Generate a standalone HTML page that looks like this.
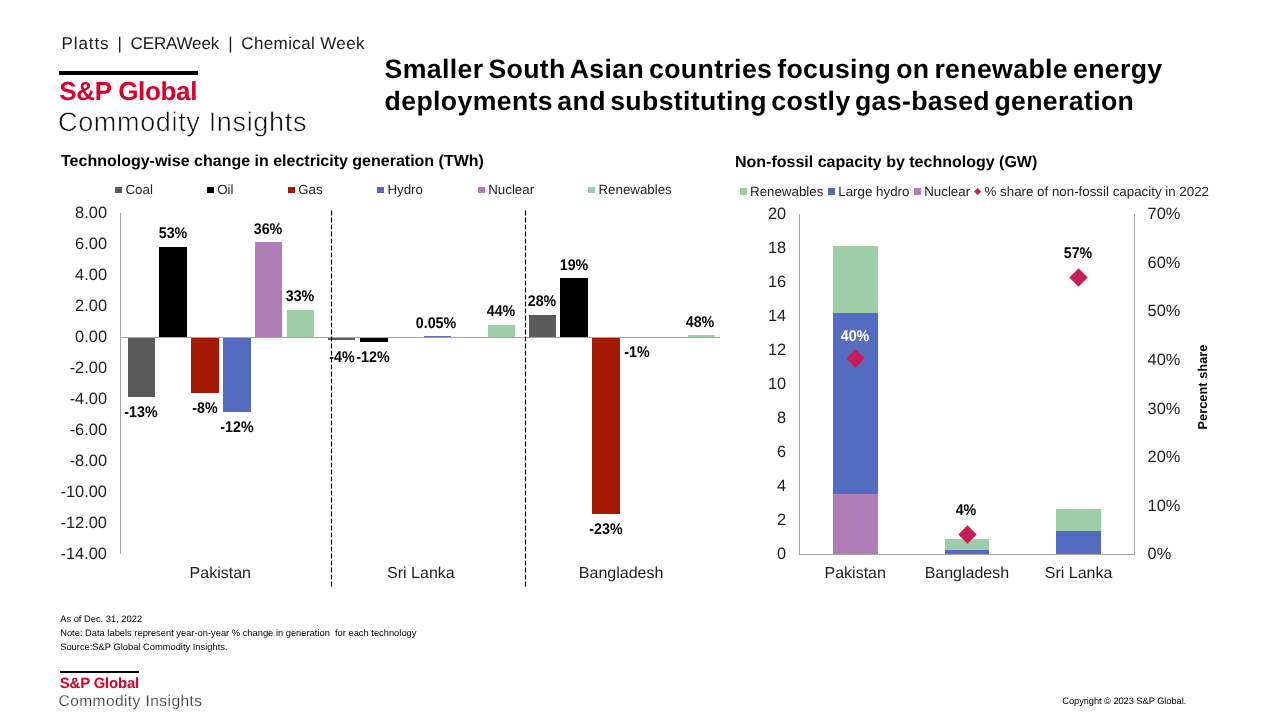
<!DOCTYPE html>
<html><head><meta charset="utf-8"><title>Smaller South Asian countries</title>
<style>
html,body{margin:0;padding:0;background:#fff;}
body{width:1280px;height:720px;position:relative;overflow:hidden;font-family:"Liberation Sans", sans-serif;}
.t{position:absolute;white-space:nowrap;font-family:"Liberation Sans", sans-serif;text-rendering:geometricPrecision;}
.r{position:absolute;}
#pg{position:absolute;left:0;top:0;width:1280px;height:720px;will-change:transform;}
</style></head><body><div id="pg">
<div class="t" style="left:61.50px;top:35.00px;font-size:17px;line-height:17px;font-weight:normal;color:#1a1a1a;letter-spacing:0.897px;">Platts</div>
<div class="t" style="left:119.80px;top:35.00px;font-size:17px;line-height:17px;font-weight:normal;color:#1a1a1a;transform:translateX(-50%);">|</div>
<div class="t" style="left:130.60px;top:35.00px;font-size:17px;line-height:17px;font-weight:normal;color:#1a1a1a;letter-spacing:-0.164px;">CERAWeek</div>
<div class="t" style="left:230.40px;top:35.00px;font-size:17px;line-height:17px;font-weight:normal;color:#1a1a1a;transform:translateX(-50%);">|</div>
<div class="t" style="left:241.30px;top:35.00px;font-size:17px;line-height:17px;font-weight:normal;color:#1a1a1a;letter-spacing:0.373px;">Chemical Week</div>
<div class="r" style="left:59.00px;top:71.00px;width:139.00px;height:4.00px;background:#000"></div>
<div class="t" style="left:59.20px;top:78.00px;font-size:26px;line-height:26px;font-weight:bold;color:#d6002a;letter-spacing:-0.312px;">S&amp;P Global</div>
<div class="t" style="left:58.00px;top:109.00px;font-size:27px;line-height:27px;font-weight:normal;color:#111;letter-spacing:0.666px;-webkit-text-stroke:0.55px #fff;">Commodity Insights</div>
<div class="t" style="left:384.60px;top:56.00px;font-size:26.67px;line-height:26.67px;font-weight:bold;color:#000;letter-spacing:0.360px;word-spacing:-2.8px;">Smaller South Asian countries focusing on renewable energy</div>
<div class="t" style="left:384.60px;top:88.00px;font-size:26.67px;line-height:26.67px;font-weight:bold;color:#000;letter-spacing:0.360px;word-spacing:-3.4px;">deployments and substituting costly gas-based generation</div>
<div class="t" style="left:61.00px;top:154.00px;font-size:16px;line-height:16px;font-weight:bold;color:#000;">Technology-wise change in electricity generation (TWh)</div>
<div class="t" style="left:735.00px;top:155.00px;font-size:16px;line-height:16px;font-weight:bold;color:#000;">Non-fossil capacity by technology (GW)</div>
<div class="r" style="left:115.05px;top:187.00px;width:7.00px;height:6.00px;background:#5b5b5b"></div>
<div class="t" style="left:125.45px;top:183.00px;font-size:13.33px;line-height:13.33px;font-weight:normal;color:#1e1e1e;">Coal</div>
<div class="r" style="left:206.80px;top:187.00px;width:7.00px;height:6.00px;background:#000000"></div>
<div class="t" style="left:217.20px;top:183.00px;font-size:13.33px;line-height:13.33px;font-weight:normal;color:#1e1e1e;">Oil</div>
<div class="r" style="left:287.80px;top:187.00px;width:7.00px;height:6.00px;background:#a51a05"></div>
<div class="t" style="left:298.20px;top:183.00px;font-size:13.33px;line-height:13.33px;font-weight:normal;color:#1e1e1e;">Gas</div>
<div class="r" style="left:377.00px;top:187.00px;width:7.00px;height:6.00px;background:#546cc0"></div>
<div class="t" style="left:387.40px;top:183.00px;font-size:13.33px;line-height:13.33px;font-weight:normal;color:#1e1e1e;">Hydro</div>
<div class="r" style="left:477.80px;top:187.00px;width:7.00px;height:6.00px;background:#b07db6"></div>
<div class="t" style="left:488.20px;top:183.00px;font-size:13.33px;line-height:13.33px;font-weight:normal;color:#1e1e1e;">Nuclear</div>
<div class="r" style="left:588.05px;top:187.00px;width:7.00px;height:6.00px;background:#9dcea7"></div>
<div class="t" style="left:598.45px;top:183.00px;font-size:13.33px;line-height:13.33px;font-weight:normal;color:#1e1e1e;">Renewables</div>
<div class="r" style="left:128.00px;top:337.04px;width:27.10px;height:59.69px;background:#5b5b5b"></div>
<div class="r" style="left:159.40px;top:246.64px;width:27.80px;height:90.39px;background:#000000"></div>
<div class="r" style="left:191.20px;top:337.04px;width:27.80px;height:55.82px;background:#a51a05"></div>
<div class="r" style="left:223.20px;top:337.04px;width:27.80px;height:74.73px;background:#546cc0"></div>
<div class="r" style="left:255.20px;top:241.99px;width:27.00px;height:95.04px;background:#b07db6"></div>
<div class="r" style="left:287.20px;top:310.06px;width:27.20px;height:26.98px;background:#9dcea7"></div>
<div class="r" style="left:328.35px;top:337.04px;width:27.10px;height:3.26px;background:#5b5b5b"></div>
<div class="r" style="left:359.75px;top:337.04px;width:27.80px;height:4.65px;background:#000000"></div>
<div class="r" style="left:423.55px;top:336.11px;width:27.80px;height:0.93px;background:#546cc0"></div>
<div class="r" style="left:487.55px;top:324.79px;width:27.20px;height:12.25px;background:#9dcea7"></div>
<div class="r" style="left:528.70px;top:315.17px;width:27.10px;height:21.86px;background:#5b5b5b"></div>
<div class="r" style="left:560.10px;top:277.81px;width:27.80px;height:59.23px;background:#000000"></div>
<div class="r" style="left:591.90px;top:337.04px;width:27.80px;height:177.06px;background:#a51a05"></div>
<div class="r" style="left:687.90px;top:334.87px;width:27.20px;height:2.17px;background:#9dcea7"></div>
<div class="r" style="left:120.00px;top:213.00px;width:1.00px;height:341.10px;background:#a6a6a6"></div>
<div class="r" style="left:120.00px;top:336.54px;width:600.30px;height:1.00px;background:#a6a6a6"></div>
<div class="t" style="right:1173.00px;top:205.00px;font-size:16.4px;line-height:16.4px;font-weight:normal;color:#1e1e1e;">8.00</div>
<div class="t" style="right:1173.00px;top:236.00px;font-size:16.4px;line-height:16.4px;font-weight:normal;color:#1e1e1e;">6.00</div>
<div class="t" style="right:1173.00px;top:267.00px;font-size:16.4px;line-height:16.4px;font-weight:normal;color:#1e1e1e;">4.00</div>
<div class="t" style="right:1173.00px;top:298.00px;font-size:16.4px;line-height:16.4px;font-weight:normal;color:#1e1e1e;">2.00</div>
<div class="t" style="right:1173.00px;top:329.00px;font-size:16.4px;line-height:16.4px;font-weight:normal;color:#1e1e1e;">0.00</div>
<div class="t" style="right:1173.00px;top:360.00px;font-size:16.4px;line-height:16.4px;font-weight:normal;color:#1e1e1e;">-2.00</div>
<div class="t" style="right:1173.00px;top:391.00px;font-size:16.4px;line-height:16.4px;font-weight:normal;color:#1e1e1e;">-4.00</div>
<div class="t" style="right:1173.00px;top:422.00px;font-size:16.4px;line-height:16.4px;font-weight:normal;color:#1e1e1e;">-6.00</div>
<div class="t" style="right:1173.00px;top:453.00px;font-size:16.4px;line-height:16.4px;font-weight:normal;color:#1e1e1e;">-8.00</div>
<div class="t" style="right:1173.00px;top:484.00px;font-size:16.4px;line-height:16.4px;font-weight:normal;color:#1e1e1e;">-10.00</div>
<div class="t" style="right:1173.00px;top:515.00px;font-size:16.4px;line-height:16.4px;font-weight:normal;color:#1e1e1e;">-12.00</div>
<div class="t" style="right:1173.00px;top:546.00px;font-size:16.4px;line-height:16.4px;font-weight:normal;color:#1e1e1e;">-14.00</div>
<div class="t" style="left:220.30px;top:566.00px;font-size:16px;line-height:16px;font-weight:normal;color:#1e1e1e;transform:translateX(-50%);">Pakistan</div>
<div class="t" style="left:420.90px;top:566.00px;font-size:16px;line-height:16px;font-weight:normal;color:#1e1e1e;transform:translateX(-50%);">Sri Lanka</div>
<div class="t" style="left:621.10px;top:566.00px;font-size:16px;line-height:16px;font-weight:normal;color:#1e1e1e;transform:translateX(-50%);">Bangladesh</div>
<svg class="r" style="left:0;top:0" width="1280" height="720" viewBox="0 0 1280 720"><path d="M331.5 210.4V586.5M525.5 210.4V586.5" stroke="#000" stroke-width="1.15" stroke-dasharray="5 2" fill="none"/></svg>
<div class="t" style="left:172.50px;top:226.00px;font-size:15.5px;line-height:15.5px;font-weight:bold;color:#000;transform:translateX(-50%) scaleX(0.92);">53%</div>
<div class="t" style="left:267.70px;top:222.00px;font-size:15.5px;line-height:15.5px;font-weight:bold;color:#000;transform:translateX(-50%) scaleX(0.92);">36%</div>
<div class="t" style="left:299.50px;top:289.00px;font-size:15.5px;line-height:15.5px;font-weight:bold;color:#000;transform:translateX(-50%) scaleX(0.92);">33%</div>
<div class="t" style="left:141.10px;top:405.00px;font-size:15.5px;line-height:15.5px;font-weight:bold;color:#000;transform:translateX(-50%) scaleX(0.92);">-13%</div>
<div class="t" style="left:205.00px;top:401.00px;font-size:15.5px;line-height:15.5px;font-weight:bold;color:#000;transform:translateX(-50%) scaleX(0.92);">-8%</div>
<div class="t" style="left:237.00px;top:420.00px;font-size:15.5px;line-height:15.5px;font-weight:bold;color:#000;transform:translateX(-50%) scaleX(0.92);">-12%</div>
<div class="t" style="left:341.60px;top:350.00px;font-size:15.5px;line-height:15.5px;font-weight:bold;color:#000;transform:translateX(-50%) scaleX(0.92);">-4%</div>
<div class="t" style="left:373.20px;top:350.00px;font-size:15.5px;line-height:15.5px;font-weight:bold;color:#000;transform:translateX(-50%) scaleX(0.92);">-12%</div>
<div class="t" style="left:436.30px;top:316.00px;font-size:15.5px;line-height:15.5px;font-weight:bold;color:#000;transform:translateX(-50%) scaleX(0.92);">0.05%</div>
<div class="t" style="left:500.50px;top:304.00px;font-size:15.5px;line-height:15.5px;font-weight:bold;color:#000;transform:translateX(-50%) scaleX(0.92);">44%</div>
<div class="t" style="left:541.50px;top:294.00px;font-size:15.5px;line-height:15.5px;font-weight:bold;color:#000;transform:translateX(-50%) scaleX(0.92);">28%</div>
<div class="t" style="left:573.70px;top:258.00px;font-size:15.5px;line-height:15.5px;font-weight:bold;color:#000;transform:translateX(-50%) scaleX(0.92);">19%</div>
<div class="t" style="left:636.80px;top:345.00px;font-size:15.5px;line-height:15.5px;font-weight:bold;color:#000;transform:translateX(-50%) scaleX(0.92);">-1%</div>
<div class="t" style="left:605.80px;top:522.00px;font-size:15.5px;line-height:15.5px;font-weight:bold;color:#000;transform:translateX(-50%) scaleX(0.92);">-23%</div>
<div class="t" style="left:700.30px;top:315.00px;font-size:15.5px;line-height:15.5px;font-weight:bold;color:#000;transform:translateX(-50%) scaleX(0.92);">48%</div>
<div class="r" style="left:740.00px;top:188.20px;width:7.00px;height:6.80px;background:#9dcea7"></div>
<div class="t" style="left:750.00px;top:185.00px;font-size:13.33px;line-height:13.33px;font-weight:normal;color:#1e1e1e;">Renewables</div>
<div class="r" style="left:828.30px;top:188.20px;width:7.00px;height:6.80px;background:#546cc0"></div>
<div class="t" style="left:838.30px;top:185.00px;font-size:13.33px;line-height:13.33px;font-weight:normal;color:#1e1e1e;">Large hydro</div>
<div class="r" style="left:914.20px;top:188.20px;width:7.00px;height:6.80px;background:#b07db6"></div>
<div class="t" style="left:924.20px;top:185.00px;font-size:13.33px;line-height:13.33px;font-weight:normal;color:#1e1e1e;">Nuclear</div>
<div class="r" style="left:975.40px;top:189.10px;width:5.2px;height:5.2px;background:#c41e54;transform:rotate(45deg)"></div>
<div class="t" style="left:984.50px;top:185.00px;font-size:13.33px;line-height:13.33px;font-weight:normal;color:#1e1e1e;">% share of non-fossil capacity in 2022</div>
<div class="r" style="left:833.30px;top:494.25px;width:44.70px;height:60.05px;background:#b07db6"></div>
<div class="r" style="left:833.30px;top:313.10px;width:44.70px;height:181.16px;background:#546cc0"></div>
<div class="r" style="left:833.30px;top:246.25px;width:44.70px;height:66.85px;background:#9dcea7"></div>
<div class="r" style="left:944.65px;top:550.05px;width:44.70px;height:4.25px;background:#546cc0"></div>
<div class="r" style="left:944.65px;top:539.33px;width:44.70px;height:10.72px;background:#9dcea7"></div>
<div class="r" style="left:1056.10px;top:531.00px;width:44.70px;height:23.30px;background:#546cc0"></div>
<div class="r" style="left:1056.10px;top:509.22px;width:44.70px;height:21.77px;background:#9dcea7"></div>
<div class="r" style="left:798.90px;top:214.10px;width:1.00px;height:340.20px;background:#a6a6a6"></div>
<div class="r" style="left:1133.90px;top:214.10px;width:1.00px;height:340.20px;background:#a6a6a6"></div>
<div class="r" style="left:798.90px;top:553.80px;width:336.00px;height:1.00px;background:#a6a6a6"></div>
<div class="t" style="right:493.80px;top:546.00px;font-size:16.4px;line-height:16.4px;font-weight:normal;color:#1e1e1e;">0</div>
<div class="t" style="right:493.80px;top:512.00px;font-size:16.4px;line-height:16.4px;font-weight:normal;color:#1e1e1e;">2</div>
<div class="t" style="right:493.80px;top:478.00px;font-size:16.4px;line-height:16.4px;font-weight:normal;color:#1e1e1e;">4</div>
<div class="t" style="right:493.80px;top:444.00px;font-size:16.4px;line-height:16.4px;font-weight:normal;color:#1e1e1e;">6</div>
<div class="t" style="right:493.80px;top:410.00px;font-size:16.4px;line-height:16.4px;font-weight:normal;color:#1e1e1e;">8</div>
<div class="t" style="right:493.80px;top:376.00px;font-size:16.4px;line-height:16.4px;font-weight:normal;color:#1e1e1e;">10</div>
<div class="t" style="right:493.80px;top:342.00px;font-size:16.4px;line-height:16.4px;font-weight:normal;color:#1e1e1e;">12</div>
<div class="t" style="right:493.80px;top:308.00px;font-size:16.4px;line-height:16.4px;font-weight:normal;color:#1e1e1e;">14</div>
<div class="t" style="right:493.80px;top:274.00px;font-size:16.4px;line-height:16.4px;font-weight:normal;color:#1e1e1e;">16</div>
<div class="t" style="right:493.80px;top:240.00px;font-size:16.4px;line-height:16.4px;font-weight:normal;color:#1e1e1e;">18</div>
<div class="t" style="right:493.80px;top:206.00px;font-size:16.4px;line-height:16.4px;font-weight:normal;color:#1e1e1e;">20</div>
<div class="t" style="left:1147.60px;top:546.00px;font-size:16.4px;line-height:16.4px;font-weight:normal;color:#1e1e1e;">0%</div>
<div class="t" style="left:1147.60px;top:498.00px;font-size:16.4px;line-height:16.4px;font-weight:normal;color:#1e1e1e;">10%</div>
<div class="t" style="left:1147.60px;top:449.00px;font-size:16.4px;line-height:16.4px;font-weight:normal;color:#1e1e1e;">20%</div>
<div class="t" style="left:1147.60px;top:401.00px;font-size:16.4px;line-height:16.4px;font-weight:normal;color:#1e1e1e;">30%</div>
<div class="t" style="left:1147.60px;top:352.00px;font-size:16.4px;line-height:16.4px;font-weight:normal;color:#1e1e1e;">40%</div>
<div class="t" style="left:1147.60px;top:303.00px;font-size:16.4px;line-height:16.4px;font-weight:normal;color:#1e1e1e;">50%</div>
<div class="t" style="left:1147.60px;top:255.00px;font-size:16.4px;line-height:16.4px;font-weight:normal;color:#1e1e1e;">60%</div>
<div class="t" style="left:1147.60px;top:206.00px;font-size:16.4px;line-height:16.4px;font-weight:normal;color:#1e1e1e;">70%</div>
<div class="t" style="left:855.23px;top:566.00px;font-size:16px;line-height:16px;font-weight:normal;color:#1e1e1e;transform:translateX(-50%);">Pakistan</div>
<div class="t" style="left:966.90px;top:566.00px;font-size:16px;line-height:16px;font-weight:normal;color:#1e1e1e;transform:translateX(-50%);">Bangladesh</div>
<div class="t" style="left:1078.57px;top:566.00px;font-size:16px;line-height:16px;font-weight:normal;color:#1e1e1e;transform:translateX(-50%);">Sri Lanka</div>
<div class="r" style="left:849.30px;top:352.45px;width:13.1px;height:13.1px;background:#c41e54;transform:rotate(45deg)"></div>
<div class="r" style="left:960.65px;top:527.55px;width:13.1px;height:13.1px;background:#c41e54;transform:rotate(45deg)"></div>
<div class="r" style="left:1072.10px;top:270.55px;width:13.1px;height:13.1px;background:#c41e54;transform:rotate(45deg)"></div>
<div class="t" style="left:855.20px;top:329.00px;font-size:15.5px;line-height:15.5px;font-weight:bold;color:#fff;transform:translateX(-50%) scaleX(0.92);">40%</div>
<div class="t" style="left:966.20px;top:503.00px;font-size:15.5px;line-height:15.5px;font-weight:bold;color:#000;transform:translateX(-50%) scaleX(0.92);">4%</div>
<div class="t" style="left:1078.30px;top:246.00px;font-size:15.5px;line-height:15.5px;font-weight:bold;color:#000;transform:translateX(-50%) scaleX(0.92);">57%</div>
<div class="t" style="left:1203.2px;top:386.7px;font-size:12.85px;line-height:12.85px;font-weight:bold;transform:translate(-50%,-50%) rotate(-90deg)">Percent share</div>
<div class="t" style="left:60.20px;top:615.00px;font-size:9.33px;line-height:9.33px;font-weight:normal;color:#000;">As of Dec. 31, 2022</div>
<div class="t" style="left:60.20px;top:629.00px;font-size:9.33px;line-height:9.33px;font-weight:normal;color:#000;">Note: Data labels represent year-on-year % change in generation&nbsp; for each technology</div>
<div class="t" style="left:60.20px;top:643.00px;font-size:9.33px;line-height:9.33px;font-weight:normal;color:#000;">Source:S&amp;P Global Commodity Insights.</div>
<div class="r" style="left:59.70px;top:670.60px;width:79.70px;height:2.20px;background:#000"></div>
<div class="t" style="left:59.80px;top:677.00px;font-size:14.9px;line-height:14.9px;font-weight:bold;color:#d6002a;letter-spacing:-0.163px;">S&amp;P Global</div>
<div class="t" style="left:58.50px;top:694.00px;font-size:15.5px;line-height:15.5px;font-weight:normal;color:#333;letter-spacing:0.435px;-webkit-text-stroke:0.2px #fff;">Commodity Insights</div>
<div class="t" style="left:1062.30px;top:697.00px;font-size:9.33px;line-height:9.33px;font-weight:normal;color:#000;letter-spacing:-0.074px;">Copyright © 2023 S&amp;P Global.</div>
</div></body></html>
